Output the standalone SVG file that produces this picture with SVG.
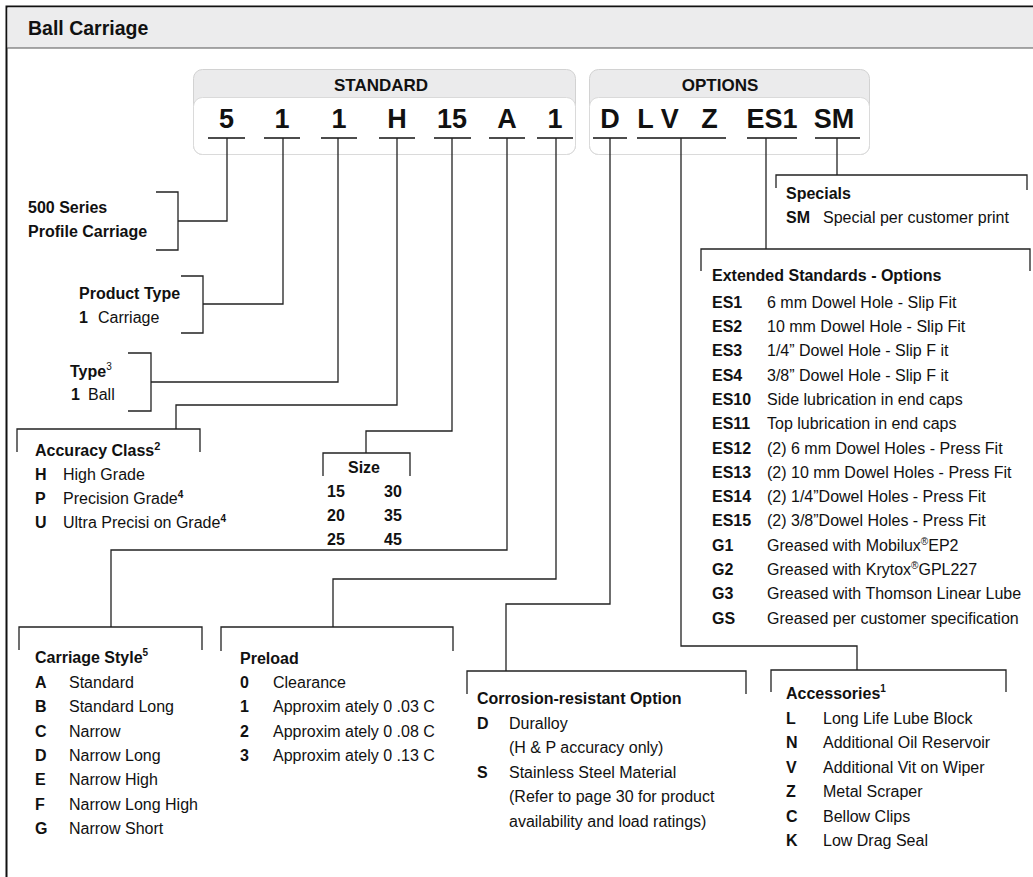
<svg xmlns="http://www.w3.org/2000/svg" width="1033" height="877" viewBox="0 0 1033 877">
<style>
text { font-family: "Liberation Sans", Arial, sans-serif; fill: #111; }
.b { font-weight: bold; font-size: 16px; }
.r { font-size: 16px; }
.code { font-weight: bold; font-size: 27px; text-anchor: middle; }
.cap { font-weight: bold; font-size: 17px; text-anchor: middle; }
.sup { font-size: 10px; }
.ln { fill: none; stroke: #222; stroke-width: 1.3; }
.ul { stroke: #111; stroke-width: 1.6; }
</style>
<rect x="0" y="0" width="1033" height="877" fill="#fff"/>
<g id="frame">
<rect x="6.5" y="6.5" width="1040" height="900" fill="#fff" stroke="#111" stroke-width="2"/>
<rect x="7.5" y="7.5" width="1030" height="40.5" fill="#ececed"/>
<line x1="7" y1="48" x2="1033" y2="48" stroke="#555" stroke-width="1"/>
<text x="28" y="35" style="font-weight:bold;font-size:19.5px">Ball Carriage</text>
</g>
<g id="standard-box">
<rect x="193.5" y="69.5" width="382" height="85" rx="9" fill="#ebebec" stroke="#d2d2d2"/>
<rect x="193.5" y="97.5" width="382" height="57" rx="9" fill="#fff" stroke="#dadada"/>
<text x="381" y="91" class="cap">STANDARD</text>
<text x="226.5" y="128" class="code">5</text>
<text x="282" y="128" class="code">1</text>
<text x="339" y="128" class="code">1</text>
<text x="397" y="128" class="code">H</text>
<text x="452" y="128" class="code">15</text>
<text x="507" y="128" class="code">A</text>
<text x="555" y="128" class="code">1</text>
<g class="ul">
<line x1="208" y1="138" x2="245" y2="138"/>
<line x1="264" y1="138" x2="300" y2="138"/>
<line x1="321" y1="138" x2="357" y2="138"/>
<line x1="379" y1="138" x2="415" y2="138"/>
<line x1="434" y1="138" x2="471" y2="138"/>
<line x1="489" y1="138" x2="525" y2="138"/>
<line x1="537" y1="138" x2="573" y2="138"/>
</g>
</g>
<g id="options-box">
<rect x="589.5" y="69.5" width="280" height="85" rx="9" fill="#ebebec" stroke="#d2d2d2"/>
<rect x="589.5" y="97.5" width="280" height="57" rx="9" fill="#fff" stroke="#dadada"/>
<text x="720" y="91" class="cap">OPTIONS</text>
<text x="610" y="128" class="code">D</text>
<text y="128" class="code"><tspan x="649">L</tspan> <tspan x="673.5">V</tspan> <tspan x="709.5">Z</tspan></text>
<text x="772" y="128" class="code">ES1</text>
<text x="834" y="128" class="code">SM</text>
<g class="ul">
<line x1="593" y1="138" x2="627" y2="138"/>
<line x1="637" y1="138" x2="726" y2="138"/>
<line x1="747" y1="138" x2="797" y2="138"/>
<line x1="815" y1="138" x2="860" y2="138"/>
</g>
</g>
<g id="connectors" class="ln">
<path d="M227,138 V221 H178"/>
<path d="M283,138 V304 H203"/>
<path d="M338,138 V382 H151"/>
<path d="M397,138 V405 H176 V429"/>
<path d="M452,138 V431 H366 V453"/>
<path d="M507,138 V550 H111 V627"/>
<path d="M556,138 V579 H333 V627"/>
<path d="M610,138 V604 H506 V671"/>
<path d="M681,138 V646 H857 V670"/>
<path d="M766,138 V249"/>
<path d="M837,138 V175"/>
</g>
<g id="series">
<path class="ln" d="M156,192 H178 V250 H156"/>
<text x="28" y="213" class="b">500 Series</text>
<text x="28" y="237" class="b">Profile Carriage</text>
</g>
<g id="product-type">
<path class="ln" d="M181,276 H203 V333 H181"/>
<text x="79" y="299" class="b">Product Type</text>
<text x="79" y="323" class="b">1</text>
<text x="98" y="323" class="r">Carriage</text>
</g>
<g id="type">
<path class="ln" d="M128,353 H151 V411 H128"/>
<text x="70" y="377" class="b">Type<tspan class="sup" style="font-weight:normal" dy="-7">3</tspan></text>
<text x="71" y="400" class="b">1</text>
<text x="88" y="400" class="r">Ball</text>
</g>
<g id="accuracy">
<path class="ln" d="M17,452 V429 H200 V452"/>
<text x="35" y="456" class="b">Accuracy Class<tspan class="sup" style="font-size:11px" dy="-6">2</tspan></text>
<text x="35" y="480" class="b">H</text><text x="63" y="480" class="r">High Grade</text>
<text x="35" y="504" class="b">P</text><text x="63" y="504" class="r">Precision Grade<tspan class="sup" style="font-weight:bold" dy="-6">4</tspan></text>
<text x="35" y="528" class="b">U</text><text x="63" y="528" class="r">Ultra Precisi on Grade<tspan class="sup" style="font-weight:bold" dy="-6">4</tspan></text>
</g>
<g id="size">
<path class="ln" d="M323,476 V453 H410 V476"/>
<text x="364" y="473" class="b" text-anchor="middle">Size</text>
<text x="327" y="497" class="b">15</text><text x="384" y="497" class="b">30</text>
<text x="327" y="521" class="b">20</text><text x="384" y="521" class="b">35</text>
<text x="327" y="545" class="b">25</text><text x="384" y="545" class="b">45</text>
</g>
<g id="carriage-style">
<path class="ln" d="M19,650 V627 H202 V650"/>
<text x="35" y="663" class="b">Carriage Style<tspan class="sup" dy="-7">5</tspan></text>
<text x="35" y="688" class="b">A</text><text x="69" y="688" class="r">Standard</text>
<text x="35" y="712" class="b">B</text><text x="69" y="712" class="r">Standard Long</text>
<text x="35" y="737" class="b">C</text><text x="69" y="737" class="r">Narrow</text>
<text x="35" y="761" class="b">D</text><text x="69" y="761" class="r">Narrow Long</text>
<text x="35" y="785" class="b">E</text><text x="69" y="785" class="r">Narrow High</text>
<text x="35" y="810" class="b">F</text><text x="69" y="810" class="r">Narrow Long High</text>
<text x="35" y="834" class="b">G</text><text x="69" y="834" class="r">Narrow Short</text>
</g>
<g id="preload">
<path class="ln" d="M221,651 V627 H453 V651"/>
<text x="240" y="664" class="b">Preload</text>
<text x="240" y="688" class="b">0</text><text x="273" y="688" class="r">Clearance</text>
<text x="240" y="712" class="b">1</text><text x="273" y="712" class="r">Approxim ately 0 .03 C</text>
<text x="240" y="737" class="b">2</text><text x="273" y="737" class="r">Approxim ately 0 .08 C</text>
<text x="240" y="761" class="b">3</text><text x="273" y="761" class="r">Approxim ately 0 .13 C</text>
</g>
<g id="corrosion">
<path class="ln" d="M467,694 V671 H746 V694"/>
<text x="477" y="704" class="b">Corrosion-resistant Option</text>
<text x="477" y="729" class="b">D</text><text x="509" y="729" class="r">Duralloy</text>
<text x="509" y="753" class="r">(H &amp; P accuracy only)</text>
<text x="477" y="777.5" class="b">S</text><text x="509" y="777.5" class="r">Stainless Steel Material</text>
<text x="509" y="802" class="r">(Refer to page 30 for product</text>
<text x="509" y="826.5" class="r">availability and load ratings)</text>
</g>
<g id="accessories">
<path class="ln" d="M771,692 V670 H1006 V692"/>
<text x="786" y="699" class="b">Accessories<tspan class="sup" dy="-7">1</tspan></text>
<text x="786" y="723.5" class="b">L</text><text x="823" y="723.5" class="r">Long Life Lube Block</text>
<text x="786" y="748" class="b">N</text><text x="823" y="748" class="r">Additional Oil Reservoir</text>
<text x="786" y="772.5" class="b">V</text><text x="823" y="772.5" class="r">Additional Vit on Wiper</text>
<text x="786" y="797" class="b">Z</text><text x="823" y="797" class="r">Metal Scraper</text>
<text x="786" y="821.5" class="b">C</text><text x="823" y="821.5" class="r">Bellow Clips</text>
<text x="786" y="846" class="b">K</text><text x="823" y="846" class="r">Low Drag Seal</text>
</g>
<g id="extended">
<path class="ln" d="M701,271 V249 H1030 V271"/>
<text x="712" y="281" class="b">Extended Standards - Options</text>
<text x="712" y="307.7" class="b">ES1</text><text x="767" y="307.7" class="r">6 mm Dowel Hole - Slip Fit</text>
<text x="712" y="332" class="b">ES2</text><text x="767" y="332" class="r">10 mm Dowel Hole - Slip Fit</text>
<text x="712" y="356.3" class="b">ES3</text><text x="767" y="356.3" class="r">1/4”  Dowel Hole - Slip F it</text>
<text x="712" y="380.6" class="b">ES4</text><text x="767" y="380.6" class="r">3/8”  Dowel Hole - Slip F it</text>
<text x="712" y="404.9" class="b">ES10</text><text x="767" y="404.9" class="r">Side lubrication in end caps</text>
<text x="712" y="429.2" class="b">ES11</text><text x="767" y="429.2" class="r">Top lubrication in end caps</text>
<text x="712" y="453.5" class="b">ES12</text><text x="767" y="453.5" class="r">(2) 6 mm Dowel Holes - Press Fit</text>
<text x="712" y="477.8" class="b">ES13</text><text x="767" y="477.8" class="r">(2) 10 mm Dowel Holes - Press Fit</text>
<text x="712" y="502.1" class="b">ES14</text><text x="767" y="502.1" class="r">(2) 1/4”Dowel Holes - Press Fit</text>
<text x="712" y="526.4" class="b">ES15</text><text x="767" y="526.4" class="r">(2) 3/8”Dowel Holes - Press Fit</text>
<text x="712" y="550.7" class="b">G1</text><text x="767" y="550.7" class="r">Greased with Mobilux<tspan class="sup" dy="-6">®</tspan><tspan dy="6">EP2</tspan></text>
<text x="712" y="575" class="b">G2</text><text x="767" y="575" class="r">Greased with Krytox<tspan class="sup" dy="-6">®</tspan><tspan dy="6">GPL227</tspan></text>
<text x="712" y="599.3" class="b">G3</text><text x="767" y="599.3" class="r">Greased with Thomson Linear Lube</text>
<text x="712" y="623.6" class="b">GS</text><text x="767" y="623.6" class="r">Greased per customer specification</text>
</g>
<g id="specials">
<path class="ln" d="M776,188 V175 H1027 V190"/>
<text x="786" y="199" class="b">Specials</text>
<text x="786" y="223" class="b">SM</text><text x="823" y="223" class="r">Special per customer print</text>
</g>
</svg>
